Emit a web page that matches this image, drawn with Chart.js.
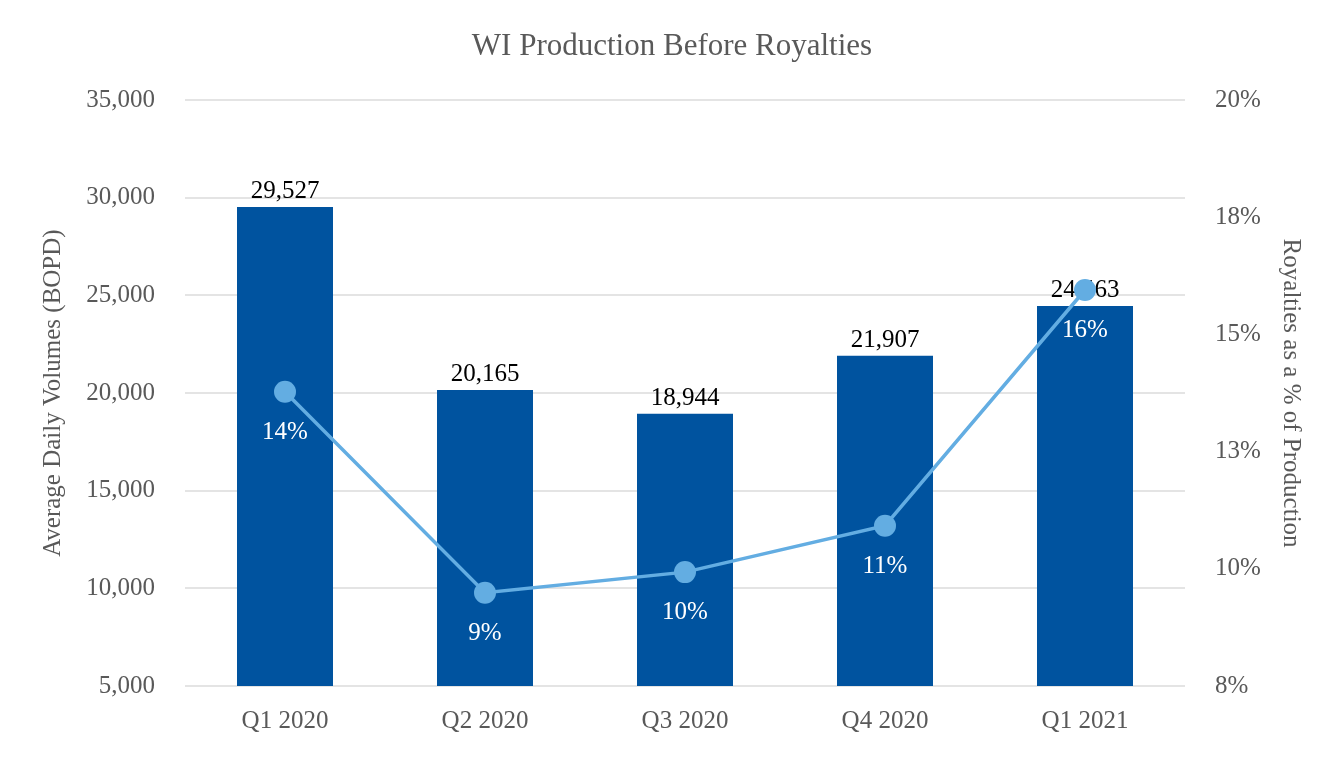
<!DOCTYPE html>
<html>
<head>
<meta charset="utf-8">
<title>WI Production Before Royalties</title>
<script src="https://cdn.jsdelivr.net/npm/chart.js@4/dist/chart.umd.min.js"></script>
<style>
  html, body { margin: 0; padding: 0; background: #fff; }
  #wrap { width: 1344px; height: 760px; }
</style>
</head>
<body>
<div id="wrap">
  <canvas id="myChart" width="1344" height="760"></canvas>
</div>
<script>
// chart data
const quarters = ['Q1 2020', 'Q2 2020', 'Q3 2020', 'Q4 2020', 'Q1 2021'];
const volumes = [29527, 20165, 18944, 21907, 24463];
const royaltyPct = [13.78, 9.49, 9.93, 10.92, 15.95];

const serif = '"Liberation Serif", "Times New Roman", serif';
const barColor = '#00539f';
const lineColor = '#63ade2';
const textGrey = '#595959';

const fmt = v => String(Math.round(v)).replace(/\B(?=(\d{3})+(?!\d))/g, ',');

// draws the value labels: bar values above bars, percentages under points
const valueLabels = {
  id: 'valueLabels',
  afterDatasetDraw(chart, args) {
    const ctx = chart.ctx;
    const meta = args.meta;
    ctx.save();
    ctx.font = '25px ' + serif;
    ctx.textAlign = 'center';
    ctx.textBaseline = 'alphabetic';
    if (meta.type === 'bar') {
      ctx.fillStyle = '#000';
      meta.data.forEach((bar, i) => ctx.fillText(fmt(volumes[i]), bar.x, bar.y - 9));
    } else {
      ctx.fillStyle = '#fff';
      meta.data.forEach((pt, i) => ctx.fillText(Math.round(royaltyPct[i]) + '%', pt.x, pt.y + 47));
    }
    ctx.restore();
  }
};

const ctx = document.getElementById('myChart').getContext('2d');
const chart = new Chart(ctx, {
  data: {
    labels: quarters,
    datasets: [
      {
        type: 'line',
        label: 'Royalties %',
        data: royaltyPct,
        yAxisID: 'y1',
        borderColor: lineColor,
        backgroundColor: lineColor,
        borderWidth: 3.5,
        pointRadius: 11,
        pointBorderWidth: 0,
        pointBackgroundColor: lineColor,
        tension: 0,
        order: 0
      },
      {
        type: 'bar',
        label: 'Average Daily Volumes',
        data: volumes,
        yAxisID: 'y',
        backgroundColor: barColor,
        barPercentage: 0.48,
        categoryPercentage: 1,
        order: 1
      }
    ]
  },
  options: {
    responsive: false,
    animation: false,
    layout: { padding: { left: 34, right: 34, top: 0, bottom: 0 } },
    plugins: {
      legend: { display: false },
      tooltip: { enabled: false },
      title: {
        display: true,
        text: 'WI Production Before Royalties',
        color: textGrey,
        font: { family: serif, size: 31, weight: 'normal' },
        padding: { top: 28, bottom: 35 }
      }
    },
    scales: {
      x: {
        grid: { display: false },
        border: { display: false },
        ticks: { color: textGrey, font: { family: serif, size: 25 }, padding: 12 },
        afterFit: s => { s.height = 74; }
      },
      y: {
        position: 'left',
        min: 5000,
        max: 35000,
        ticks: {
          stepSize: 5000,
          color: textGrey,
          font: { family: serif, size: 25 },
          padding: 30,
          callback: v => fmt(v)
        },
        grid: { color: '#e4e4e4', lineWidth: 2, drawTicks: false },
        border: { display: false },
        title: {
          display: true,
          text: 'Average Daily Volumes (BOPD)',
          color: textGrey,
          font: { family: serif, size: 25 },
          padding: { top: 4, bottom: 4 }
        },
        afterFit: s => { s.width = 151; }
      },
      y1: {
        position: 'right',
        min: 7.5,
        max: 20,
        ticks: {
          stepSize: 2.5,
          color: textGrey,
          font: { family: serif, size: 25 },
          padding: 30,
          callback: v => Math.round(v) + '%'
        },
        grid: { display: false, drawTicks: false },
        border: { display: false },
        title: {
          display: true,
          text: 'Royalties as a % of Production',
          color: textGrey,
          font: { family: serif, size: 25 },
          padding: { top: 4, bottom: 4 }
        },
        afterFit: s => { s.width = 125; }
      }
    }
  },
  plugins: [valueLabels]
});
</script>
</body>
</html>
